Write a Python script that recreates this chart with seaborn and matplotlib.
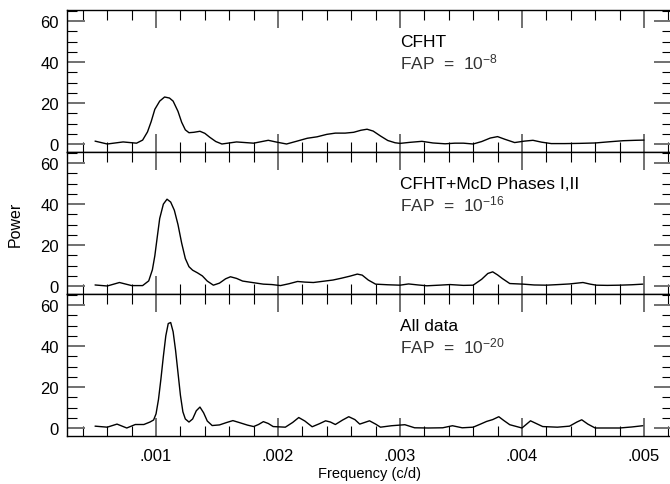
import numpy as np
import pandas as pd
import matplotlib
matplotlib.use("Agg")
import matplotlib.pyplot as plt
import seaborn as sns
from matplotlib.ticker import MultipleLocator, FixedLocator

# === data ===
freq_cfht = [0.00050, 0.00060, 0.00073, 0.00084, 0.00089, 0.00093, 0.00096, 0.00099, 0.00103, 0.00107,
             0.00111, 0.00114, 0.00118, 0.00121, 0.00124, 0.00127, 0.00131, 0.00136, 0.00140, 0.00144,
             0.00149, 0.00154, 0.00160, 0.00166, 0.00173, 0.00180, 0.00186, 0.00192, 0.00199, 0.00207,
             0.00215, 0.00224, 0.00232, 0.00240, 0.00247, 0.00255, 0.00262, 0.00268, 0.00273, 0.00278,
             0.00284, 0.00290, 0.00296, 0.00300, 0.00308, 0.00318, 0.00327, 0.00337, 0.00345, 0.00352,
             0.00360, 0.00367, 0.00374, 0.00380, 0.00386, 0.00394, 0.00402, 0.00409, 0.00416, 0.00424,
             0.00435, 0.00447, 0.00460, 0.00472, 0.00483, 0.00493, 0.00500]
power_cfht = [1.5, 0.1, 1.1, 0.5, 2.0, 6.0, 11.0, 17.0, 21.0, 23.0,
              22.5, 21.0, 16.0, 10.7, 7.0, 5.6, 5.8, 6.3, 5.3, 3.4,
              1.3, 0.1, 0.6, 1.1, 0.8, 0.5, 1.2, 1.9, 1.0, 0.1,
              1.4, 2.9, 3.6, 4.8, 5.4, 5.4, 5.8, 6.8, 7.3, 6.4,
              4.0, 1.8, 0.7, 0.4, 0.9, 1.4, 0.6, 0.2, 0.5, 0.5,
              0.1, 1.3, 3.0, 3.7, 2.4, 0.8, 1.5, 1.9, 1.0, 0.3,
              0.3, 0.4, 0.6, 1.2, 1.7, 1.9, 2.0]

freq_mcd = [0.00050, 0.00060, 0.00070, 0.00080, 0.00089, 0.00094, 0.00097, 0.00099, 0.00101, 0.00103,
            0.00106, 0.00109, 0.00112, 0.00115, 0.00118, 0.00121, 0.00124, 0.00127, 0.00130, 0.00134,
            0.00138, 0.00142, 0.00147, 0.00152, 0.00157, 0.00161, 0.00166, 0.00171, 0.00180, 0.00188,
            0.00195, 0.00202, 0.00209, 0.00216, 0.00222, 0.00229, 0.00237, 0.00245, 0.00252, 0.00259,
            0.00265, 0.00269, 0.00274, 0.00280, 0.00290, 0.00300, 0.00307, 0.00315, 0.00322, 0.00332,
            0.00341, 0.00352, 0.00360, 0.00367, 0.00372, 0.00376, 0.00380, 0.00384, 0.00390, 0.00401,
            0.00410, 0.00420, 0.00430, 0.00439, 0.00450, 0.00456, 0.00461, 0.00470, 0.00480, 0.00490,
            0.00499]
power_mcd = [0.6, 0.1, 1.8, 0.3, 0.3, 2.6, 8.0, 14.8, 24.0, 33.0,
             40.0, 42.4, 41.0, 37.0, 30.0, 21.0, 13.5, 9.5, 7.8, 6.5,
             5.0, 2.5, 0.5, 1.5, 3.6, 4.6, 3.8, 2.5, 1.7, 1.0,
             0.8, 0.3, 1.2, 2.3, 2.0, 1.8, 2.4, 3.0, 3.9, 4.9,
             5.9, 5.4, 3.0, 1.0, 0.7, 0.5, 1.1, 0.6, 0.2, 0.5,
             0.8, 0.4, 0.5, 3.4, 6.2, 7.0, 5.5, 3.7, 1.3, 1.0,
             0.6, 0.5, 0.8, 1.1, 1.8, 1.0, 0.5, 0.4, 0.5, 0.7,
             1.0]

freq_all = [0.00050, 0.00060, 0.00068, 0.00076, 0.00083, 0.00090, 0.00095, 0.00098, 0.00100, 0.00102,
            0.00104, 0.00106, 0.00108, 0.00110, 0.00112, 0.00114, 0.00116, 0.00118, 0.00120, 0.00122,
            0.00124, 0.00127, 0.00130, 0.00133, 0.00136, 0.00139, 0.00142, 0.00146, 0.00152, 0.00158,
            0.00163, 0.00168, 0.00175, 0.00180, 0.00184, 0.00188, 0.00192, 0.00196, 0.00206, 0.00212,
            0.00217, 0.00222, 0.00228, 0.00234, 0.00239, 0.00243, 0.00247, 0.00253, 0.00258, 0.00263,
            0.00267, 0.00271, 0.00275, 0.00280, 0.00284, 0.00293, 0.00304, 0.00312, 0.00323, 0.00335,
            0.00343, 0.00351, 0.00360, 0.00366, 0.00371, 0.00376, 0.00381, 0.00385, 0.00390, 0.00400,
            0.00407, 0.00412, 0.00417, 0.00429, 0.00439, 0.00445, 0.00449, 0.00454, 0.00460, 0.00470,
            0.00480, 0.00490, 0.00499]
power_all = [1.0, 0.5, 2.0, 0.1, 1.8, 1.8, 3.0, 4.0, 7.0, 14.0,
             24.0, 35.0, 45.0, 51.0, 51.5, 47.0, 38.0, 27.0, 16.0, 8.0,
             4.5, 3.0, 4.5, 8.5, 10.3, 7.5, 3.5, 1.3, 1.6, 2.8,
             3.7, 2.8, 1.5, 0.8, 1.8, 3.2, 2.3, 0.8, 0.5, 2.8,
             5.2, 3.5, 0.7, 2.2, 3.6, 3.0, 1.8, 4.0, 5.6, 4.2,
             2.0, 2.8, 3.6, 2.0, 0.5, 1.2, 1.7, 0.2, 0.1, 0.2,
             1.2, 0.2, 0.5, 2.0, 3.3, 4.2, 5.6, 3.8, 1.7, 0.1,
             3.6, 2.2, 0.8, 0.5, 1.0, 3.0, 4.1, 2.0, 0.1, 0.1,
             0.1, 0.6, 1.2]

panel_titles = ["CFHT", "CFHT+McD Phases I,II", "All data"]
fap_exponents = ["-8", "-16", "-20"]
x_ticks = [0.001, 0.002, 0.003, 0.004, 0.005]
x_tick_labels = [".001", ".002", ".003", ".004", ".005"]
y_ticks = [0, 20, 40, 60]


def main():
    sns.set_style("ticks")
    plt.rcParams["font.family"] = ["Liberation Sans", "DejaVu Sans"]
    plt.rcParams["mathtext.fontset"] = "custom"
    plt.rcParams["mathtext.rm"] = "Liberation Sans"
    plt.rcParams["mathtext.it"] = "Liberation Sans"
    plt.rcParams["text.color"] = "black"
    plt.rcParams["axes.labelcolor"] = "black"
    plt.rcParams["xtick.labelcolor"] = "black"
    plt.rcParams["ytick.labelcolor"] = "black"

    fig = plt.figure(figsize=(6.7, 4.85), dpi=100)
    W, H = 670.0, 485.0
    left, right = 67 / W, 672 / W
    tops = [11, 153, 295]
    ph = 142

    series = [(freq_cfht, power_cfht), (freq_mcd, power_mcd), (freq_all, power_all)]
    axes = []
    for i, (fx, py) in enumerate(series):
        ax = fig.add_axes([left, 1 - (tops[i] + ph) / H, right - left, ph / H])
        df = pd.DataFrame({"freq": fx, "power": py})
        sns.lineplot(data=df, x="freq", y="power", ax=ax, color="black",
                     linewidth=1.0, estimator=None, sort=False)
        ax.set_xlim(0.00027, 0.00523)
        ax.set_ylim(-3.8, 65.4)
        ax.xaxis.set_major_locator(FixedLocator(x_ticks))
        ax.xaxis.set_minor_locator(MultipleLocator(0.0002))
        ax.yaxis.set_major_locator(FixedLocator(y_ticks))
        ax.yaxis.set_minor_locator(MultipleLocator(5))
        ax.tick_params(which="both", direction="in", top=True, right=True)
        ax.tick_params(which="major", length=13, width=1.4, color="#707070")
        ax.tick_params(which="minor", length=7, width=0.8, color="black")
        ax.tick_params(axis="y", which="major", labelsize=12, pad=6, labelcolor="black")
        ax.tick_params(axis="x", which="major", labelsize=12, pad=9, labelcolor="black")
        for sp in ax.spines.values():
            sp.set_linewidth(1.0)
            sp.set_color("black")
        ax.set_xlabel("")
        ax.set_ylabel("")
        if i < 2:
            ax.set_xticklabels([])
        else:
            ax.set_xticklabels(x_tick_labels)

        ax.text(0.55, 0.775, panel_titles[i], transform=ax.transAxes,
                fontsize=12.5, va="center", ha="left", color="black")
        ax.text(0.55, 0.64, "FAP  =  10$^{" + fap_exponents[i] + "}$", transform=ax.transAxes,
                fontsize=12.5, va="center", ha="left", color="#333333")
        axes.append(ax)

    axes[2].set_xlabel("Frequency (c/d)", fontsize=10.5, labelpad=2, color="black")
    fig.text(15 / W, 1 - 224 / H, "Power", rotation=90, fontsize=11.5,
             ha="center", va="center", color="black")

    fig.savefig("out.png", dpi=100)
    plt.close(fig)


if __name__ == "__main__":
    main()
